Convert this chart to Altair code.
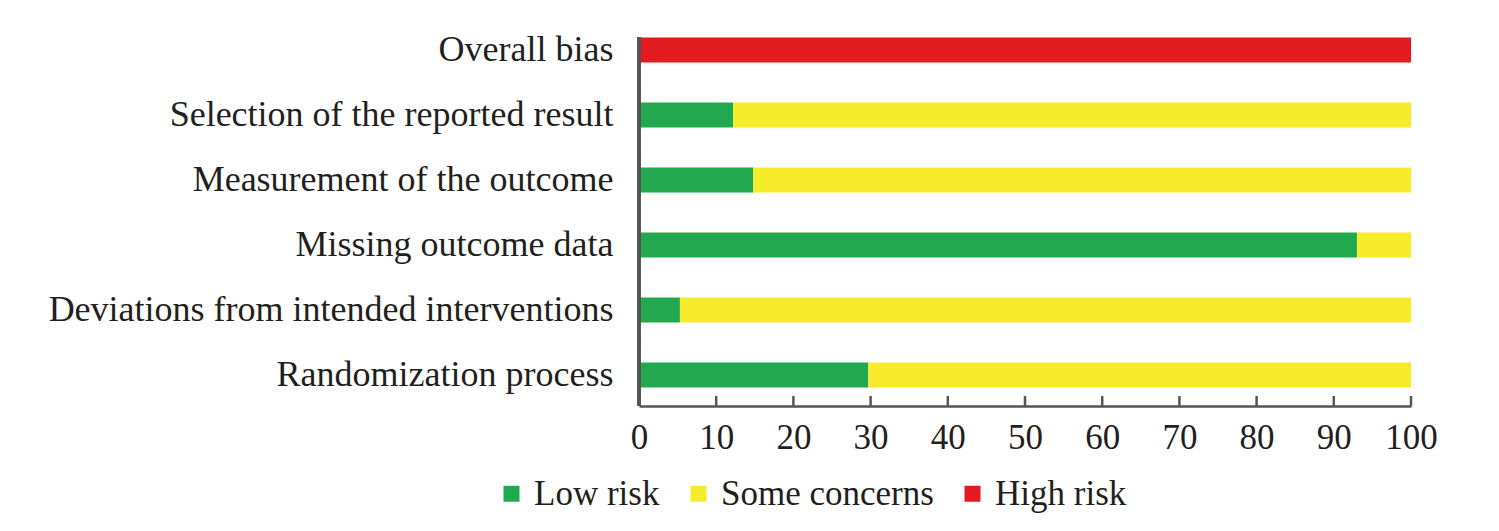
import altair as alt
import pandas as pd

categories = [
    "Overall bias",
    "Selection of the reported result",
    "Measurement of the outcome",
    "Missing outcome data",
    "Deviations from intended interventions",
    "Randomization process",
]
risk_levels = ["Low risk", "Some concerns", "High risk"]
risk_colors = ["#22a94f", "#f6ec2c", "#e31b1e"]
low_risk = [0, 12.2, 14.8, 93.0, 5.3, 29.7]
some_concerns = [0, 87.8, 85.2, 7.0, 94.7, 70.3]
high_risk = [100, 0, 0, 0, 0, 0]
x_ticks = [0, 10, 20, 30, 40, 50, 60, 70, 80, 90, 100]

rows = []
for i, c in enumerate(categories):
    for j, (r, vals) in enumerate(zip(risk_levels, [low_risk, some_concerns, high_risk])):
        rows.append({"Domain": c, "Risk": r, "Value": vals[i], "Order": j})
df = pd.DataFrame(rows)
ticks_df = pd.DataFrame({"t": x_ticks})

FONT = "Liberation Serif"
TXT = "#231f20"
AXC = "#555555"
H = 387

bars = alt.Chart(df).mark_bar().encode(
    y=alt.Y(
        "Domain:N",
        sort=categories,
        scale=alt.Scale(paddingInner=0.615, paddingOuter=0.285),
        axis=alt.Axis(
            title=None, ticks=False, domain=False, grid=False, labelFont=FONT, labelFontSize=36,
            labelColor=TXT, labelPadding=26, labelLimit=1000,
        ),
    ),
    x=alt.X(
        "Value:Q",
        stack="zero",
        scale=alt.Scale(domain=[0, 100], nice=False),
        axis=alt.Axis(
            title=None, values=x_ticks, ticks=False, grid=False,
            labelFont=FONT, labelFontSize=35, labelColor=TXT, labelPadding=14,
            domainColor=AXC, domainWidth=2.5, labelFlush=False,
        ),
    ),
    color=alt.Color(
        "Risk:N",
        sort=risk_levels,
        scale=alt.Scale(domain=risk_levels, range=risk_colors),
        legend=alt.Legend(
            title=None, orient="none", direction="horizontal",
            legendX=-145, legendY=457,
            symbolType="square", symbolSize=256, symbolStrokeWidth=0,
            labelFont=FONT, labelFontSize=35, labelColor=TXT,
            labelOffset=5, columnPadding=21, labelLimit=1000,
        ),
    ),
    order=alt.Order("Order:Q"),
)

tick_marks = alt.Chart(ticks_df).mark_rule(color=AXC, strokeWidth=2.5).encode(
    x=alt.X("t:Q"),
    y=alt.value(H),
    y2=alt.value(H - 10),
)

y_domain_line = alt.Chart(ticks_df).mark_rule(color=AXC, strokeWidth=2.5).encode(
    x=alt.value(0),
    y=alt.value(18),
    y2=alt.value(H),
)

chart = alt.layer(bars, tick_marks, y_domain_line).properties(
    width=772,
    height=H,
    background="white",
    autosize=alt.AutoSizeParams(type="none"),
    padding={"left": 631, "top": 11, "right": 80, "bottom": 125},
).configure_view(strokeWidth=0, stroke="transparent")

chart.save("out.html", embed_options={"renderer": "svg", "actions": False})
